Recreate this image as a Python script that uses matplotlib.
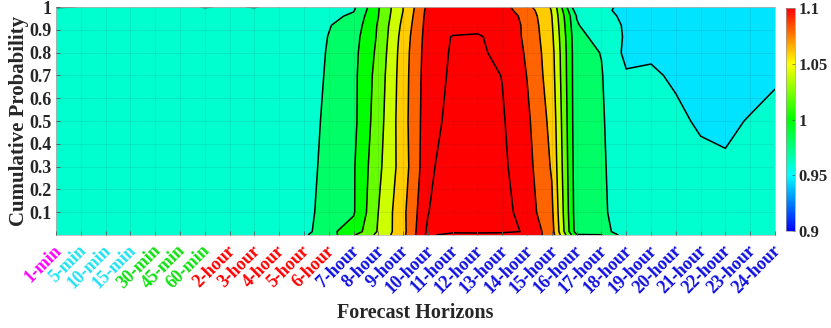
import numpy as np
import matplotlib
matplotlib.use('Agg')
import matplotlib.pyplot as plt
from matplotlib.colors import LinearSegmentedColormap, Normalize
from matplotlib.cm import ScalarMappable
import matplotlib.transforms as mtransforms

# ---------------- data ----------------
horizons = ['1-min', '5-min', '10-min', '15-min', '30-min', '45-min', '60-min',
            '2-hour', '3-hour', '4-hour', '5-hour', '6-hour', '7-hour', '8-hour',
            '9-hour', '10-hour', '11-hour', '12-hour', '13-hour', '14-hour',
            '15-hour', '16-hour', '17-hour', '18-hour', '19-hour', '20-hour',
            '21-hour', '22-hour', '23-hour', '24-hour']
label_colors = (['#FF00FF'] + ['#22E2F0'] * 3 + ['#10E010'] * 3 +
                ['#FF0000'] * 5 + ['#1010E0'] * 18)

prob = [0.0, 0.015, 0.1, 0.3, 0.5, 0.7, 0.8, 0.87, 0.92, 0.96, 0.985, 1.0]

z_p0000 = [0.97, 0.97, 0.97, 0.97, 0.97, 0.97, 0.97, 0.97, 0.97, 0.97,
           0.978, 0.99, 1.018, 1.045, 1.075, 1.125, 1.11, 1.11, 1.11, 1.116,
           1.09, 1.002, 1.001, 0.97, 0.97, 0.97, 0.97, 0.97, 0.97, 0.97]
z_p0015 = [0.97, 0.97, 0.97, 0.97, 0.97, 0.97, 0.97, 0.97, 0.97, 0.97,
           0.972, 0.996, 1.008, 1.042, 1.074, 1.124, 1.126, 1.127, 1.125, 1.118,
           1.088, 0.99, 0.988, 0.968, 0.968, 0.968, 0.968, 0.968, 0.968, 0.968]
z_p0100 = [0.97, 0.97, 0.97, 0.97, 0.97, 0.97, 0.97, 0.97, 0.97, 0.97,
           0.97, 0.993, 0.998, 1.04, 1.075, 1.119, 1.14, 1.14, 1.128, 1.11,
           1.084, 0.988, 0.984, 0.968, 0.968, 0.967, 0.967, 0.966, 0.968, 0.968]
z_p0300 = [0.97, 0.97, 0.97, 0.97, 0.97, 0.97, 0.97, 0.97, 0.97, 0.97,
           0.97, 0.988, 0.998, 1.035, 1.07, 1.114, 1.135, 1.135, 1.124, 1.107,
           1.078, 0.987, 0.983, 0.967, 0.967, 0.966, 0.964, 0.962, 0.966, 0.967]
z_p0500 = [0.97, 0.97, 0.97, 0.97, 0.97, 0.97, 0.97, 0.97, 0.97, 0.97,
           0.97, 0.985, 0.995, 1.031, 1.072, 1.112, 1.126, 1.13, 1.122, 1.104,
           1.074, 0.986, 0.982, 0.966, 0.966, 0.963, 0.958, 0.957, 0.961, 0.9635]
z_p0700 = [0.97, 0.97, 0.97, 0.97, 0.97, 0.97, 0.97, 0.97, 0.97, 0.97,
           0.97, 0.9825, 0.995, 1.028, 1.071, 1.111, 1.123, 1.127, 1.1195, 1.0995,
           1.069, 0.986, 0.981, 0.962, 0.962, 0.958, 0.955, 0.953, 0.954, 0.9585]
z_p0800 = [0.97, 0.97, 0.97, 0.97, 0.97, 0.97, 0.97, 0.97, 0.97, 0.97,
           0.97, 0.9815, 0.994, 1.025, 1.07, 1.11, 1.122, 1.125, 1.113, 1.098,
           1.067, 0.986, 0.9795, 0.955, 0.958, 0.955, 0.953, 0.952, 0.952, 0.955]
z_p0870 = [0.97, 0.97, 0.97, 0.97, 0.97, 0.97, 0.97, 0.97, 0.97, 0.97,
           0.97, 0.9805, 0.992, 1.0228, 1.068, 1.109, 1.121, 1.123, 1.11, 1.097,
           1.064, 0.985, 0.974, 0.9575, 0.955, 0.952, 0.952, 0.952, 0.952, 0.952]
z_p0920 = [0.97, 0.97, 0.97, 0.97, 0.97, 0.97, 0.97, 0.97, 0.97, 0.97,
           0.97, 0.979, 0.988, 1.022, 1.065, 1.108, 1.111, 1.111, 1.112, 1.096,
           1.062, 0.982, 0.964, 0.959, 0.951, 0.951, 0.951, 0.951, 0.951, 0.951]
z_p0960 = [0.97, 0.97, 0.97, 0.97, 0.97, 0.97, 0.97, 0.97, 0.97, 0.97,
           0.97, 0.974, 0.984, 1.0196, 1.062, 1.107, 1.113, 1.114, 1.111, 1.094,
           1.06, 0.979, 0.9625, 0.9585, 0.951, 0.951, 0.951, 0.951, 0.951, 0.951]
z_p0985 = [0.97, 0.97, 0.97, 0.97, 0.97, 0.97, 0.97, 0.97, 0.97, 0.97,
           0.97, 0.972, 0.9785, 1.019, 1.06, 1.106, 1.112, 1.112, 1.108, 1.09,
           1.059, 0.97, 0.9615, 0.958, 0.95, 0.95, 0.95, 0.95, 0.95, 0.95]
z_p1000 = [0.958, 0.9605, 0.97, 0.97, 0.97, 0.97, 0.958, 0.964, 0.958, 0.97,
           0.97, 0.972, 0.976, 1.018, 1.06, 1.104, 1.11, 1.11, 1.107, 1.086,
           1.058, 0.962, 0.9605, 0.9595, 0.95, 0.95, 0.95, 0.95, 0.95, 0.95]

Z = np.array([z_p0000, z_p0015, z_p0100, z_p0300, z_p0500, z_p0700, z_p0800,
              z_p0870, z_p0920, z_p0960, z_p0985, z_p1000])
xpos = np.arange(len(horizons))
X, Y = np.meshgrid(xpos, prob)

# ---------------- style ----------------
plt.rcParams['font.family'] = ['Liberation Serif', 'DejaVu Serif']
plt.rcParams['font.weight'] = 'bold'

W, H = 831, 328
fig = plt.figure(figsize=(W / 100, H / 100), dpi=100)
ax = fig.add_axes([56 / W, (H - 235) / H, 719 / W, 228 / H])

cmap = LinearSegmentedColormap.from_list(
    'bcgyr', ['#0000FF', '#00FFFF', '#00FF00', '#FFFF00', '#FF0000'])
norm = Normalize(0.9, 1.1)

fill_bounds = [0.90, 0.96, 0.98, 1.00, 1.02, 1.04, 1.06, 1.08, 1.10, 1.12, 1.20]
fill_tone = [0.945, 0.96, 0.98, 1.00, 1.02, 1.04, 1.06, 1.08, 1.10, 1.10]
line_levels = [0.96, 0.98, 1.00, 1.02, 1.04, 1.06, 1.08, 1.10, 1.12]

ax.contourf(X, Y, Z, levels=fill_bounds,
            colors=[cmap(norm(v)) for v in fill_tone])
ax.contour(X, Y, Z, levels=line_levels, colors='k', linewidths=1.1)

ax.set_xlim(0, len(horizons) - 1)
ax.set_ylim(0, 1)

yt = [0.1, 0.2, 0.3, 0.4, 0.5, 0.6, 0.7, 0.8, 0.9, 1.0]
ax.set_yticks(yt)
ax.set_yticklabels(['0.1', '0.2', '0.3', '0.4', '0.5', '0.6', '0.7', '0.8',
                    '0.9', '1'], fontsize=13, fontweight='bold')
ax.set_xticks(xpos)
ax.set_xticklabels([])

# rotated horizon labels, right end just past each tick
lab_off = mtransforms.ScaledTranslation(9 / 100, -7 / 100, fig.dpi_scale_trans)
lab_tr = ax.get_xaxis_transform() + lab_off
for i, (name, c) in enumerate(zip(horizons, label_colors)):
    ax.text(xpos[i], 0, name, transform=lab_tr, rotation=45, ha='right',
            va='top', fontsize=13, fontweight='bold', color=c, clip_on=False)

ax.tick_params(axis='both', direction='in', length=3, width=0.6,
               color='0.35', pad=3)
ax.tick_params(axis='y', labelcolor='#262626')
ax.grid(True, color='0.2', alpha=0.12, linewidth=0.6)
ax.set_axisbelow(False)
for sp in ax.spines.values():
    sp.set_color('0.75')
    sp.set_linewidth(0.6)

ax.set_ylabel('Cumulative Probability', fontsize=15, fontweight='bold',
              color='#262626')
ax.yaxis.set_label_coords(-0.037, 0.5)
ax.set_xlabel('Forecast Horizons', fontsize=14.5, fontweight='bold',
              color='#262626')
ax.xaxis.set_label_coords(0.5, -0.30)

# colorbar
cax = fig.add_axes([785.5 / W, (H - 231) / H, 9 / W, 223 / H])
cb = fig.colorbar(ScalarMappable(norm=norm, cmap=cmap), cax=cax,
                  ticks=[0.9, 0.95, 1.0, 1.05, 1.1])
cb.ax.set_yticklabels(['0.9', '0.95', '1', '1.05', '1.1'], fontsize=12,
                      fontweight='bold', color='#262626')
cb.ax.tick_params(direction='in', length=2, width=0.5, color='0.35', pad=3)
cb.outline.set_linewidth(0.5)
cb.outline.set_edgecolor('0.6')

fig.savefig('out.png', dpi=100)
